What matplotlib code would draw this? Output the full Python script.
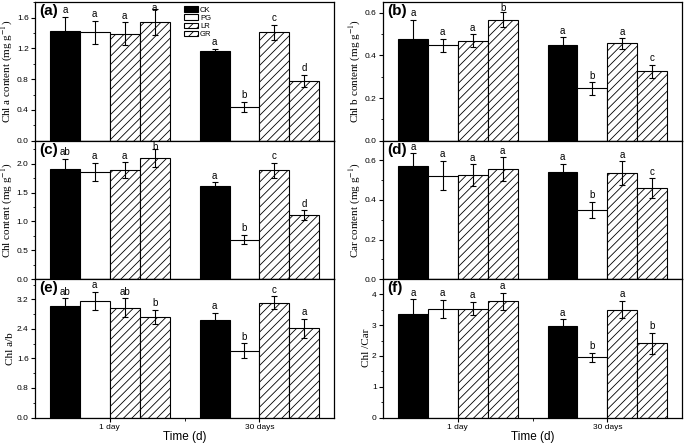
import matplotlib
matplotlib.use('Agg')
import matplotlib.pyplot as plt
import numpy as np
from matplotlib.ticker import MultipleLocator

plt.rcParams['font.family'] = ['Liberation Sans', 'DejaVu Sans']
plt.rcParams['mathtext.fontset'] = 'stix'
plt.rcParams['hatch.linewidth'] = 0.6

# order in every list: 1 day (CK, PG, LR, GR), 30 days (CK, PG, LR, GR)
groups = ['1 day', '30 days']
treatments = ['CK', 'PG', 'LR', 'GR']

chla = [1.42, 1.41, 1.39, 1.54, 1.16, 0.44, 1.41, 0.78]
chla_err = [0.19, 0.15, 0.15, 0.17, 0.035, 0.065, 0.10, 0.08]
chla_sig = ['a', 'a', 'a', 'a', 'a', 'b', 'c', 'd']

chlb = [0.478, 0.448, 0.470, 0.567, 0.447, 0.245, 0.457, 0.326]
chlb_err = [0.09, 0.03, 0.03, 0.035, 0.04, 0.03, 0.025, 0.03]
chlb_sig = ['a', 'a', 'a', 'b', 'a', 'b', 'a', 'c']

chl = [1.90, 1.86, 1.885, 2.10, 1.61, 0.685, 1.885, 1.108]
chl_err = [0.19, 0.16, 0.14, 0.15, 0.07, 0.085, 0.13, 0.085]
chl_sig = ['ab', 'a', 'a', 'b', 'a', 'b', 'c', 'd']

car = [0.570, 0.523, 0.526, 0.556, 0.541, 0.351, 0.536, 0.460]
car_err = [0.07, 0.075, 0.055, 0.06, 0.042, 0.04, 0.06, 0.05]
car_sig = ['a', 'a', 'a', 'a', 'a', 'b', 'a', 'c']

ratio_ab = [3.02, 3.155, 2.975, 2.725, 2.645, 1.814, 3.11, 2.42]
ratio_ab_err = [0.22, 0.25, 0.25, 0.20, 0.19, 0.20, 0.18, 0.26]
ratio_ab_sig = ['ab', 'a', 'ab', 'b', 'a', 'b', 'c', 'a']

chl_car = [3.37, 3.54, 3.54, 3.78, 2.99, 1.96, 3.51, 2.41]
chl_car_err = [0.48, 0.29, 0.22, 0.28, 0.20, 0.15, 0.29, 0.35]
chl_car_sig = ['a', 'a', 'a', 'a', 'a', 'b', 'a', 'b']

panels = [
    ('(a)', 'Chl a content (mg g$^{-1}$)', chla, chla_err, chla_sig, 1.8, 0.4),
    ('(b)', 'Chl b content (mg g$^{-1}$)', chlb, chlb_err, chlb_sig, 0.65, 0.2),
    ('(c)', 'Chl content (mg g$^{-1}$)', chl, chl_err, chl_sig, 2.4, 0.5),
    ('(d)', 'Car content (mg g$^{-1}$)', car, car_err, car_sig, 0.7, 0.2),
    ('(e)', 'Chl a/b', ratio_ab, ratio_ab_err, ratio_ab_sig, 3.75, 0.8),
    ('(f)', 'Chl /Car', chl_car, chl_car_err, chl_car_sig, 4.5, 1.0),
]

faces = ['black', 'white', 'white', 'white']
hatches = ['', '', '////', '////']
width = 0.2
offsets = (np.arange(4) - 1.5) * width
xg = np.arange(len(groups))

fig = plt.figure(figsize=(6.85, 4.43), dpi=100)
lefts = [0.051, 0.559]
bottoms = [0.6825, 0.37, 0.0575]
W = 0.437
H = 0.3125

for i, (tag, ylab, vals, errs, sig, ymax, step) in enumerate(panels):
    row, col = divmod(i, 2)
    ax = fig.add_axes([lefts[col], bottoms[row], W, H])
    vals = np.array(vals).reshape(2, 4)
    errs = np.array(errs).reshape(2, 4)
    sig = np.array(sig).reshape(2, 4)
    for t in range(4):
        xs = xg + offsets[t]
        ax.bar(xs, vals[:, t], width, color=faces[t], edgecolor='black',
               linewidth=0.8, hatch=hatches[t], label=treatments[t], zorder=2)
        ax.errorbar(xs, vals[:, t], yerr=errs[:, t], fmt='none', ecolor='black',
                    elinewidth=0.8, capsize=2, capthick=0.8, zorder=3)
        for g in range(2):
            ytop = min(vals[g, t] + errs[g, t], ymax * 0.91)
            ax.annotate(sig[g, t], (xs[g], ytop),
                        xytext=(0, 1), textcoords='offset points',
                        ha='center', va='bottom', fontsize=7)
    ax.set_xlim(-0.5, 1.5)
    ax.set_ylim(0, ymax)
    ax.yaxis.set_major_locator(MultipleLocator(step))
    ax.yaxis.set_minor_locator(MultipleLocator(step / 2))
    ax.tick_params(axis='y', which='major', direction='out', length=3,
                   width=0.8, labelsize=6, pad=1.5)
    ax.tick_params(axis='y', which='minor', direction='out', length=1.5, width=0.6)
    if row == 2:
        ax.set_xticks(xg)
        ax.set_xticklabels(groups)
        ax.set_xticks([0.5], minor=True)
        ax.tick_params(axis='x', which='major', direction='out', length=3,
                       width=0.8, labelsize=6, pad=2)
        ax.tick_params(axis='x', which='minor', direction='out', length=2, width=0.6)
        ax.set_xlabel('Time (d)', fontsize=8.5, labelpad=0)
    else:
        ax.set_xticks([])
    for s in ax.spines.values():
        s.set_linewidth(0.9)
    ax.set_ylabel(ylab, fontsize=8, family=['Liberation Serif', 'DejaVu Serif'],
                  labelpad=1)
    ax.text(0.015, 0.985, tag, transform=ax.transAxes, ha='left', va='top',
            fontsize=11, fontweight='bold')
    if i == 0:
        ax.legend(loc='upper left', bbox_to_anchor=(0.48, 1.01), frameon=False,
                  fontsize=5.5, handlelength=1.8, handleheight=0.7,
                  labelspacing=0.12, handletextpad=0.3, borderpad=0.2)

fig.savefig('out.png', dpi=100)
